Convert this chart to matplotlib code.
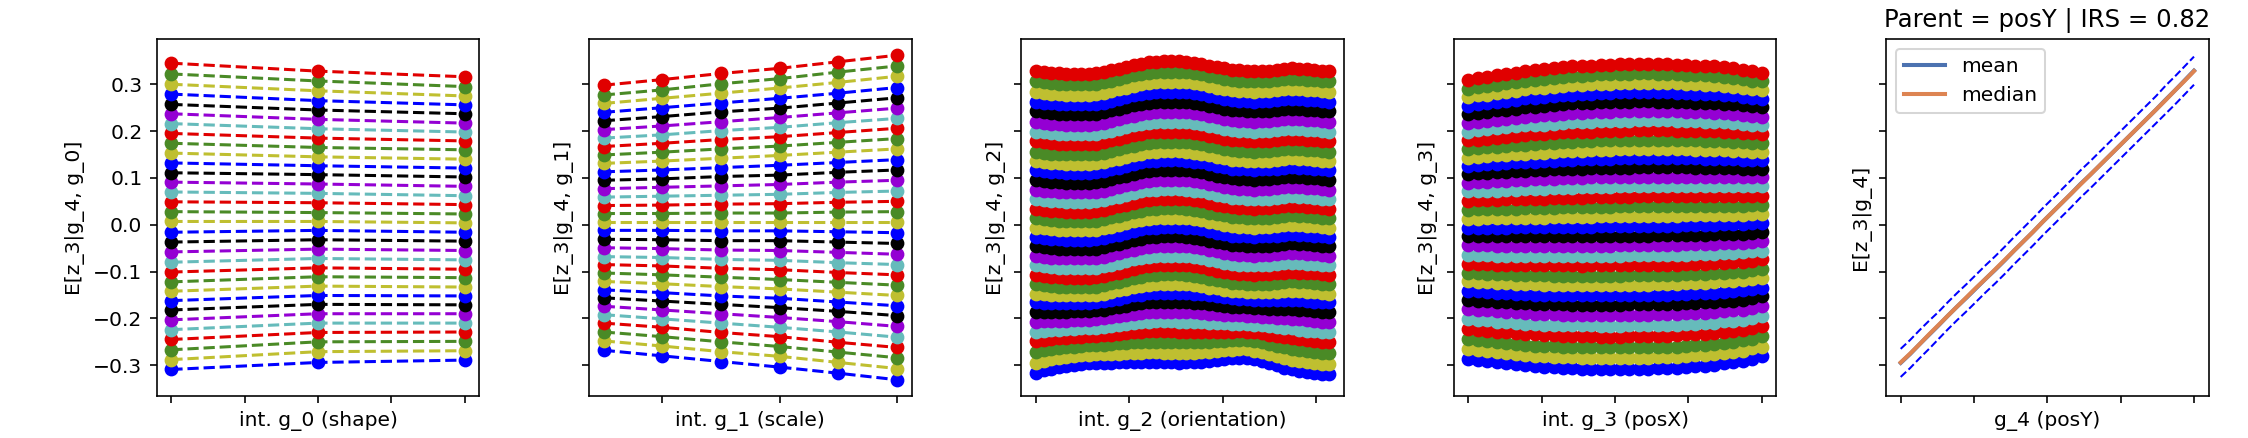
import numpy as np
import matplotlib
matplotlib.use("Agg")
import matplotlib.pyplot as plt

# ---------------- factor grids (x values) ----------------
shape_vals = [1, 2, 3]
scale_vals = [0.5, 0.6, 0.7, 0.8, 0.9, 1.0]
orient_vals = np.linspace(0, 2 * np.pi, 40)
posx_vals = np.linspace(0, 1, 32)
posy_vals = np.linspace(0, 1, 32)

# ---------------- E[z_3 | g_4, g_k], values in thousandths ----------------
# rows are listed from the top line (g_4 = 31) down to the bottom line (g_4 = 0)
z_shape = [
    [345, 328, 316], [322, 307, 295], [300, 286, 275], [279, 265, 256],
    [257, 245, 237], [237, 225, 217], [216, 205, 198], [195, 185, 179],
    [174, 165, 160], [153, 145, 140], [132, 126, 121], [111, 107, 102],
    [91, 87, 82], [70, 67, 62], [49, 47, 43], [28, 26, 23],
    [7, 7, 4], [-16, -12, -16], [-37, -32, -35], [-58, -52, -55],
    [-80, -72, -75], [-101, -92, -95], [-122, -111, -113], [-142, -131, -133],
    [-162, -151, -152], [-182, -170, -171], [-203, -190, -190], [-224, -210, -210],
    [-245, -230, -229], [-267, -250, -249], [-288, -271, -269], [-309, -294, -289],
]

z_scale = [
    [298, 310, 323, 334, 348, 362], [277, 288, 301, 312, 326, 339],
    [259, 270, 281, 292, 304, 317], [240, 250, 260, 270, 281, 293],
    [222, 231, 241, 249, 260, 271], [203, 211, 220, 229, 239, 249],
    [185, 192, 201, 208, 218, 227], [167, 174, 182, 188, 197, 206],
    [149, 155, 162, 168, 176, 184], [131, 136, 142, 148, 155, 162],
    [113, 117, 122, 127, 133, 139], [95, 98, 103, 106, 112, 117],
    [77, 80, 83, 86, 91, 95], [59, 61, 63, 65, 69, 72],
    [41, 42, 44, 45, 48, 50], [24, 24, 25, 25, 27, 28],
    [6, 6, 6, 6, 6, 6], [-12, -12, -13, -13, -15, -17],
    [-31, -32, -34, -34, -37, -40], [-49, -51, -54, -55, -59, -63],
    [-68, -70, -74, -76, -81, -85], [-85, -88, -93, -96, -102, -107],
    [-103, -107, -112, -117, -123, -129], [-121, -126, -132, -137, -144, -151],
    [-139, -145, -152, -157, -165, -173], [-156, -163, -170, -177, -185, -194],
    [-174, -182, -190, -198, -207, -217], [-192, -201, -210, -219, -229, -240],
    [-210, -219, -230, -239, -251, -262], [-229, -239, -250, -260, -272, -284],
    [-248, -259, -271, -281, -294, -307], [-268, -280, -292, -304, -317, -331],
]

z_orient = [
    [328,326,324,323,322,322,322,322,323,326,330,333,337,341,344,347,348,349,349,349,348,346,344,340,337,334,331,330,329,328,329,329,331,333,334,333,332,331,329,328],
    [306,304,302,301,300,300,300,300,301,304,308,311,315,319,322,325,326,327,327,327,326,324,322,318,315,312,309,308,307,306,307,307,309,311,312,311,310,309,307,306],
    [284,282,280,279,278,278,278,278,279,282,286,289,293,297,300,303,304,305,305,305,304,302,300,296,293,290,287,286,285,284,285,285,287,289,290,289,288,287,285,284],
    [263,261,259,258,257,257,257,257,258,261,265,268,272,276,279,282,283,284,284,284,283,281,279,275,272,269,266,265,264,263,264,264,266,268,269,268,267,266,264,263],
    [242,240,238,237,236,236,236,236,237,240,244,247,251,255,258,261,262,263,263,263,262,260,258,254,251,248,245,244,243,242,243,243,245,247,248,247,246,245,243,242],
    [220,218,216,215,214,214,214,214,215,218,222,225,229,233,236,239,240,241,241,241,240,238,236,232,229,226,223,222,221,220,221,221,223,225,226,225,224,223,221,220],
    [199,197,195,194,193,193,193,193,194,197,201,204,208,212,215,218,219,220,220,220,219,217,215,211,208,205,202,201,200,199,200,200,202,204,205,204,203,202,200,199],
    [178,176,174,173,172,172,172,172,173,176,180,183,187,191,194,197,198,199,199,199,198,196,194,190,187,184,181,180,179,178,179,179,181,183,184,183,182,181,179,178],
    [156,154,152,151,150,150,150,150,151,154,158,161,165,169,172,175,176,177,177,177,176,174,172,168,165,162,159,158,157,156,157,157,159,161,162,161,160,159,157,156],
    [136,134,132,131,130,130,130,130,131,134,138,141,145,149,152,155,156,157,157,157,156,154,152,148,145,142,139,138,137,136,137,137,139,141,142,141,140,139,137,136],
    [117,115,113,112,111,111,111,111,112,115,119,122,126,130,133,136,137,138,138,138,137,135,133,129,126,123,120,119,118,117,118,118,120,122,123,122,121,120,118,117],
    [96,94,92,91,90,90,90,90,91,94,98,101,105,109,112,115,116,117,117,117,116,114,112,108,105,102,99,98,97,96,97,97,99,101,102,101,100,99,97,96],
    [75,73,71,70,69,69,69,69,70,73,77,80,84,88,91,94,95,96,96,96,95,93,91,87,84,81,78,77,76,75,76,76,78,80,81,80,79,78,76,75],
    [55,53,51,50,49,49,49,49,50,53,57,60,64,68,71,74,75,76,76,76,75,73,71,67,64,61,58,57,56,55,56,56,58,60,61,60,59,58,56,55],
    [34,32,30,29,28,28,28,28,29,32,36,39,43,47,50,53,54,55,55,55,54,52,50,46,43,40,37,36,35,34,35,35,37,39,40,39,38,37,35,34],
    [14,12,10,9,8,8,8,8,9,12,16,19,23,27,30,33,34,35,35,35,34,32,30,26,23,20,17,16,15,14,15,15,17,19,20,19,18,17,15,14],
    [-6,-8,-10,-11,-12,-12,-12,-12,-11,-8,-4,-1,3,7,10,13,14,15,15,15,14,12,10,6,3,0,-3,-4,-5,-6,-5,-5,-3,-1,0,-1,-2,-3,-5,-6],
    [-26,-28,-30,-31,-32,-32,-32,-32,-31,-28,-24,-21,-17,-13,-10,-7,-6,-5,-5,-5,-6,-8,-10,-14,-17,-20,-23,-24,-25,-26,-25,-25,-23,-21,-20,-21,-22,-23,-25,-26],
    [-46,-48,-50,-51,-52,-52,-52,-52,-51,-48,-44,-41,-37,-33,-30,-27,-26,-25,-25,-25,-26,-28,-30,-34,-37,-40,-43,-44,-45,-46,-45,-45,-43,-41,-40,-41,-42,-43,-45,-46],
    [-66,-68,-70,-71,-72,-72,-72,-72,-71,-68,-64,-61,-57,-53,-50,-47,-46,-45,-45,-45,-46,-48,-50,-54,-57,-60,-63,-64,-65,-66,-65,-65,-63,-61,-60,-61,-62,-63,-65,-66],
    [-87,-89,-91,-92,-93,-93,-93,-93,-92,-89,-85,-82,-78,-74,-71,-68,-67,-66,-66,-66,-67,-69,-71,-75,-78,-81,-84,-85,-86,-87,-86,-86,-84,-82,-81,-82,-83,-84,-86,-87],
    [-107,-109,-111,-112,-113,-113,-113,-113,-112,-109,-105,-102,-98,-94,-91,-88,-87,-86,-86,-86,-87,-89,-91,-95,-98,-101,-104,-105,-106,-107,-106,-106,-104,-102,-101,-102,-103,-104,-106,-107],
    [-127,-129,-131,-132,-133,-133,-133,-133,-132,-129,-125,-122,-118,-114,-111,-108,-107,-106,-106,-106,-107,-109,-111,-115,-118,-121,-124,-125,-126,-127,-126,-126,-124,-122,-121,-122,-123,-124,-126,-127],
    [-147,-148,-150,-150,-151,-151,-150,-150,-149,-147,-143,-140,-137,-133,-130,-128,-127,-126,-126,-126,-127,-129,-130,-134,-136,-139,-141,-142,-143,-144,-143,-144,-143,-141,-141,-142,-143,-144,-146,-147],
    [-166,-167,-167,-167,-168,-167,-167,-167,-166,-163,-160,-158,-154,-151,-149,-146,-145,-145,-145,-145,-146,-147,-148,-151,-153,-155,-157,-158,-159,-160,-160,-161,-160,-160,-160,-161,-163,-164,-166,-166],
    [-186,-186,-186,-186,-186,-185,-184,-184,-183,-181,-178,-176,-173,-170,-168,-166,-165,-165,-165,-165,-165,-167,-168,-170,-172,-173,-175,-175,-176,-177,-177,-179,-179,-179,-180,-181,-183,-184,-186,-187],
    [-207,-206,-206,-205,-205,-204,-203,-203,-202,-200,-197,-195,-193,-190,-188,-186,-186,-186,-186,-186,-186,-187,-188,-190,-191,-192,-193,-193,-194,-195,-196,-198,-199,-200,-201,-202,-204,-206,-207,-208],
    [-228,-226,-225,-224,-223,-222,-221,-221,-220,-218,-216,-214,-212,-210,-208,-207,-206,-206,-206,-207,-207,-208,-208,-209,-210,-210,-211,-211,-211,-213,-214,-217,-218,-220,-221,-224,-226,-227,-229,-229],
    [-249,-246,-245,-242,-241,-240,-239,-238,-238,-236,-235,-233,-232,-229,-228,-227,-227,-227,-227,-228,-228,-228,-228,-229,-228,-228,-228,-227,-228,-230,-232,-235,-238,-240,-242,-245,-247,-249,-250,-250],
    [-272,-268,-266,-263,-261,-260,-258,-257,-257,-256,-255,-253,-253,-251,-250,-250,-250,-250,-250,-251,-250,-251,-250,-250,-249,-248,-247,-246,-246,-249,-251,-255,-259,-262,-265,-268,-270,-272,-273,-274],
    [-295,-291,-287,-284,-282,-280,-278,-278,-277,-276,-276,-275,-274,-273,-273,-272,-272,-273,-273,-274,-273,-273,-272,-271,-270,-268,-267,-266,-266,-269,-271,-276,-280,-285,-288,-291,-294,-296,-297,-297],
    [-316,-311,-307,-303,-301,-299,-297,-296,-296,-295,-295,-294,-294,-293,-293,-293,-293,-294,-294,-295,-294,-294,-292,-291,-289,-287,-285,-284,-284,-287,-290,-295,-300,-305,-309,-312,-315,-317,-318,-318],
]

z_posx = [
    [309,313,316,319,322,325,328,330,332,334,336,338,339,340,342,342,343,343,344,344,343,343,342,341,340,339,338,336,334,331,328,325],
    [290,294,297,299,302,305,308,310,312,314,316,317,318,319,321,321,322,322,323,323,322,322,321,320,320,319,318,316,314,311,308,306],
    [272,276,278,281,284,286,289,291,292,294,296,298,299,300,301,301,302,302,303,303,303,303,302,301,300,299,298,297,295,292,290,287],
    [254,257,260,262,265,267,270,271,273,275,277,278,279,280,282,282,283,283,284,284,283,283,282,281,280,280,279,277,276,273,271,269],
    [236,239,241,244,246,248,251,252,254,255,257,259,259,260,262,262,263,263,264,264,263,263,262,262,261,260,260,258,257,255,253,251],
    [217,220,222,224,226,228,231,232,234,235,237,238,239,240,241,241,242,242,243,243,242,242,242,241,240,240,239,238,237,235,233,231],
    [199,202,204,206,208,210,212,213,214,216,217,219,219,220,221,221,222,222,223,223,223,223,222,222,221,220,220,219,218,216,214,213],
    [180,182,184,186,188,190,192,193,194,195,197,198,198,199,201,201,201,202,202,202,202,202,201,201,200,200,200,199,198,196,195,194],
    [161,163,165,166,168,170,171,172,174,175,176,177,178,179,180,180,181,181,182,182,181,181,181,180,180,179,179,178,177,176,175,174],
    [143,145,147,148,149,151,152,153,154,156,157,158,158,159,160,160,161,161,162,162,161,161,161,161,160,160,160,159,158,157,156,156],
    [126,128,129,130,132,133,134,135,136,137,138,139,140,140,141,141,142,142,143,143,143,143,142,142,142,141,141,141,140,139,139,138],
    [108,110,111,112,113,114,115,116,117,118,119,120,120,121,121,121,122,122,123,123,123,123,123,123,122,122,122,122,121,120,120,120],
    [90,91,92,93,94,95,96,97,98,98,99,100,100,101,102,102,102,103,103,103,103,103,103,103,103,103,103,103,102,102,102,102],
    [71,72,73,73,74,75,76,76,77,78,79,79,80,80,81,81,82,82,83,83,82,82,82,82,82,82,82,82,82,82,82,82],
    [51,52,53,53,54,54,55,55,56,57,57,58,58,59,59,59,60,60,61,61,61,61,61,61,61,61,61,61,61,61,61,62],
    [32,33,33,33,34,34,35,35,36,36,37,37,37,38,38,38,39,39,40,40,40,40,40,40,40,40,41,41,41,41,42,43],
    [13,13,14,14,14,15,15,15,15,16,16,17,17,17,18,18,18,19,19,19,19,19,19,20,20,20,20,21,21,21,22,23],
    [-6,-6,-6,-6,-6,-5,-5,-5,-5,-5,-4,-4,-4,-4,-3,-3,-3,-2,-2,-2,-2,-2,-2,-1,-1,-1,0,1,1,1,3,4],
    [-25,-25,-25,-25,-25,-25,-25,-25,-25,-25,-25,-24,-25,-24,-24,-24,-24,-23,-23,-23,-22,-22,-22,-21,-21,-21,-20,-19,-19,-19,-17,-15],
    [-44,-44,-44,-45,-45,-45,-45,-46,-46,-45,-45,-45,-45,-45,-45,-45,-44,-44,-43,-43,-43,-43,-43,-42,-42,-42,-41,-40,-39,-39,-37,-35],
    [-64,-65,-65,-66,-66,-66,-66,-67,-67,-67,-67,-67,-67,-67,-66,-66,-66,-65,-65,-65,-65,-65,-65,-64,-63,-63,-62,-61,-60,-59,-57,-55],
    [-83,-84,-84,-85,-86,-86,-86,-87,-87,-87,-87,-87,-88,-87,-87,-87,-87,-86,-86,-86,-86,-86,-85,-84,-84,-83,-82,-81,-80,-79,-77,-74],
    [-103,-104,-105,-106,-106,-107,-107,-108,-108,-109,-109,-109,-109,-109,-109,-109,-109,-108,-108,-108,-107,-107,-107,-106,-105,-105,-104,-102,-101,-100,-97,-95],
    [-121,-122,-123,-124,-125,-126,-126,-127,-128,-128,-128,-128,-129,-129,-129,-129,-129,-128,-128,-128,-127,-127,-127,-125,-125,-124,-123,-121,-120,-119,-116,-113],
    [-141,-142,-143,-145,-146,-147,-148,-149,-149,-149,-150,-150,-150,-150,-151,-151,-150,-150,-149,-149,-149,-149,-148,-147,-146,-146,-145,-143,-142,-140,-137,-134],
    [-160,-162,-163,-165,-166,-167,-168,-169,-169,-170,-170,-171,-171,-171,-171,-171,-171,-170,-170,-170,-170,-170,-169,-168,-167,-166,-165,-163,-162,-160,-156,-153],
    [-180,-182,-183,-185,-186,-187,-189,-190,-191,-191,-192,-192,-193,-193,-193,-193,-193,-192,-192,-192,-191,-191,-191,-189,-188,-188,-186,-184,-183,-181,-177,-173],
    [-201,-203,-204,-207,-208,-209,-211,-212,-213,-213,-214,-215,-215,-215,-216,-216,-216,-215,-215,-215,-214,-214,-213,-212,-211,-210,-209,-206,-205,-203,-199,-195],
    [-222,-224,-226,-228,-230,-231,-233,-234,-235,-236,-237,-237,-238,-238,-239,-239,-239,-238,-238,-238,-237,-237,-236,-234,-233,-233,-231,-228,-227,-224,-220,-216],
    [-244,-247,-248,-251,-253,-254,-256,-258,-258,-259,-260,-261,-262,-262,-262,-262,-262,-261,-261,-261,-261,-261,-260,-258,-257,-256,-254,-252,-250,-247,-243,-238],
    [-265,-268,-270,-272,-274,-276,-278,-280,-281,-282,-283,-283,-284,-284,-285,-285,-285,-284,-284,-284,-283,-283,-282,-280,-279,-279,-277,-274,-272,-269,-264,-260],
    [-286,-289,-291,-294,-296,-298,-300,-302,-303,-304,-305,-306,-307,-307,-308,-308,-308,-307,-307,-307,-306,-306,-305,-303,-302,-301,-299,-296,-294,-291,-286,-281],
]

# E[z_3 | g_4] over posY (ascending), thousandths
mean_vals = [-295, -276, -255, -235, -215, -194, -174, -155, -135, -115,
             -96, -76, -55, -35, -15, 6, 26, 46, 66, 87,
             106, 126, 146, 166, 186, 206, 226, 246, 267, 287, 308, 329]
median_vals = [-294, -275, -255, -234, -214, -194, -174, -154, -134, -115,
               -95, -75, -55, -35, -15, 6, 26, 46, 66, 86,
               106, 126, 146, 166, 186, 206, 226, 246, 266, 287, 307, 328]
std_vals = [30, 30, 30, 30, 29, 29, 29, 29, 29, 29, 29, 29, 29, 29, 29, 29,
            29, 29, 29, 29, 29, 29, 29, 29, 29, 29, 29, 29, 30, 30, 30, 30]

# text
x_labels = ["int. g_0 (shape)", "int. g_1 (scale)", "int. g_2 (orientation)",
            "int. g_3 (posX)", "g_4 (posY)"]
y_labels = ["E[z_3|g_4, g_0]", "E[z_3|g_4, g_1]", "E[z_3|g_4, g_2]",
            "E[z_3|g_4, g_3]", "E[z_3|g_4]"]
title_text = "Parent = posY | IRS = 0.82"

# colour cycle, starting from the bottom line (g_4 = 0)
line_colors = ["#0000ff", "#bfbf30", "#4a8a26", "#e00000",
               "#66bbbb", "#9400d3", "#000000"]

DPI = 146
fig, axes = plt.subplots(1, 5, figsize=(2248 / DPI, 438 / DPI), dpi=DPI, sharey=True)
fig.subplots_adjust(left=0.0697, right=0.9825, bottom=0.0959, top=0.911, wspace=0.34)

panels = [(shape_vals, z_shape), (scale_vals, z_scale),
          (orient_vals, z_orient), (posx_vals, z_posx)]

for ax, (xv, table), xl, yl in zip(axes[:4], panels, x_labels[:4], y_labels[:4]):
    rows = [np.asarray(r, dtype=float) / 1000.0 for r in table][::-1]
    for k, row in enumerate(rows):
        ax.plot(xv, row, "o--", color=line_colors[k % len(line_colors)],
                ms=5.8, lw=1.5)
    ax.set_xlabel(xl)
    ax.set_ylabel(yl)
    ax.tick_params(labelbottom=False)

ax = axes[4]
m = np.asarray(mean_vals, dtype=float) / 1000.0
md = np.asarray(median_vals, dtype=float) / 1000.0
sd = np.asarray(std_vals, dtype=float) / 1000.0
ax.plot(posy_vals, m, color="#4c72b0", lw=2.0, label="mean")
ax.plot(posy_vals, md, color="#dd8452", lw=2.0, label="median")
ax.plot(posy_vals, m + sd, "--", color="#0000ff", lw=1.0)
ax.plot(posy_vals, m - sd, "--", color="#0000ff", lw=1.0)
ax.legend(loc="upper left")
ax.set_title(title_text)
ax.set_xlabel(x_labels[4])
ax.set_ylabel(y_labels[4])
ax.tick_params(labelbottom=False)

fig.savefig("out.png", dpi=DPI)
